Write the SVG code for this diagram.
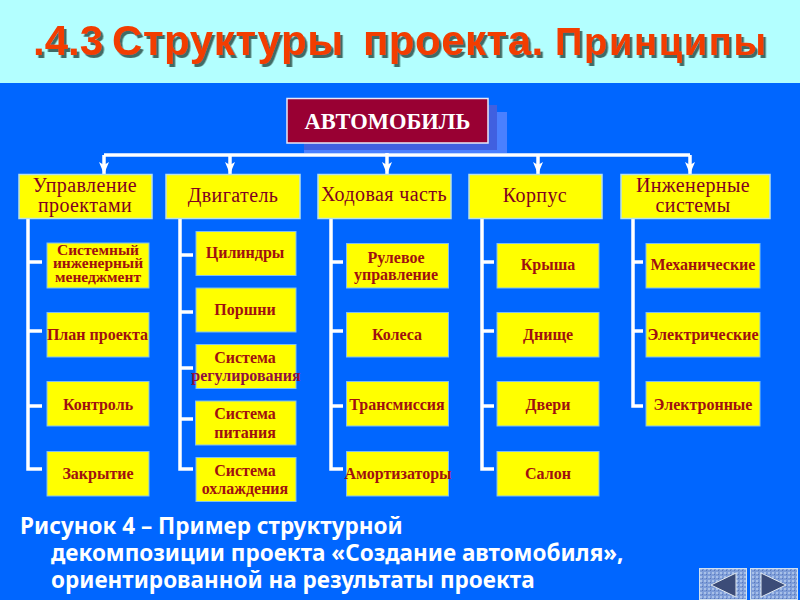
<svg xmlns="http://www.w3.org/2000/svg" width="800" height="600" viewBox="0 0 800 600">
<style>
.l1{fill:#ffff00;stroke:#b8e0e8;stroke-width:1.5}
.l2{fill:#ffff00;stroke:#80c0f0;stroke-width:1}
.t1{font-family:"Liberation Serif",serif;font-size:20px;fill:#800020;text-anchor:middle;letter-spacing:.4px}
.t2{font-family:"Liberation Serif",serif;font-size:16px;font-weight:bold;fill:#a01010;text-anchor:middle}
.t3{font-size:15.5px}
.c{fill:none;stroke:#fff;stroke-width:3.5}
.cap{font-family:"Noto Sans",sans-serif;font-size:22.500px;font-weight:bold;fill:#fff}
.btn{fill:url(#tex);stroke:#d0e0f0;stroke-width:1}
.tri{fill:#3c4c78;stroke:#e0e8f0;stroke-width:1}
.title{font-family:"Liberation Sans",sans-serif;font-weight:bold;fill:#f23c00}
</style>
<defs>
<marker id="ah" markerUnits="userSpaceOnUse" markerWidth="14" markerHeight="12" refX="13" refY="6" orient="auto" viewBox="0 0 14 12"><path d="M1 1L13 6L1 11L4 6Z" fill="#fff"/></marker>
<pattern id="tex" width="4" height="4" patternUnits="userSpaceOnUse"><rect width="4" height="4" fill="#7d9cd8"/><rect width="2" height="2" fill="#a8c0e8"/><rect x="2" y="2" width="1" height="1" fill="#5a78b8"/></pattern>
<filter id="sh" x="-5%" y="-20%" width="110%" height="150%"><feDropShadow dx="2.500" dy="3" stdDeviation=".7" flood-color="#1a3a30" flood-opacity=".75"/></filter>
</defs>
<rect width="800" height="600" fill="#0066ff"/>
<rect width="800" height="83" fill="#b3ffff"/>
<text class="title" y="55" font-size="42" filter="url(#sh)"><tspan x="33">.4.3</tspan><tspan x="112" letter-spacing=".6">Структуры</tspan><tspan x="363" letter-spacing=".5">проекта.</tspan><tspan x="555" font-size="38" letter-spacing="1.700">Принципы</tspan></text>

<g id="connectors">
<path class="c" d="M104 155H690"/>
<path class="c" d="M387 143V174" marker-end="url(#ah)"/>
<path class="c" d="M104 155V174" marker-end="url(#ah)"/>
<path class="c" d="M230 155V174" marker-end="url(#ah)"/>
<path class="c" d="M538 155V174" marker-end="url(#ah)"/>
<path class="c" d="M690 155V174" marker-end="url(#ah)"/>
<path class="c" d="M28 218V469H42M28 262H42M28 331H42M28 406H42"/>
<path class="c" d="M180 218V469H193M180 255H193M180 312H193M180 368H193M180 419H193"/>
<path class="c" d="M331 218V469H343M331 262H343M331 331H343M331 406H343"/>
<path class="c" d="M482 218V469H494M482 262H494M482 331H494M482 406H494"/>
<path class="c" d="M633 218V406H643M633 262H643M633 331H643"/>
</g>

<g id="root">
<rect x="304" y="112" width="203" height="41" fill="#4a80ff"/>
<rect x="304" y="105" width="193" height="45" fill="#4060e0"/>
<rect x="287" y="98.500" width="201" height="44.500" fill="#990033" stroke="#e8e8f8" stroke-width="1.500"/>
<text x="387.500" y="129" font-family="'Liberation Serif',serif" font-weight="bold" font-size="22.500" fill="#fff" text-anchor="middle">АВТОМОБИЛЬ</text>
</g>

<g id="n1"><rect class="l1" x="19" y="174.500" width="133" height="44"/><text class="t1" x="85" y="192">Управление</text><text class="t1" x="85" y="212">проектами</text></g>
<g id="n2"><rect class="l1" x="166" y="174.500" width="134" height="44"/><text class="t1" x="233" y="202">Двигатель</text></g>
<g id="n3"><rect class="l1" x="318" y="174.500" width="133" height="44"/><text class="t1" x="384" y="201">Ходовая часть</text></g>
<g id="n4"><rect class="l1" x="469" y="174.500" width="133" height="44"/><text class="t1" x="535" y="202">Корпус</text></g>
<g id="n5"><rect class="l1" x="621" y="174.500" width="149" height="44"/><text class="t1" x="693" y="192">Инженерные</text><text class="t1" x="693" y="212">системы</text></g>

<g id="n1-1"><rect class="l2" x="47" y="243" width="102" height="45"/><text class="t2 t3" x="98" y="255">Системный</text><text class="t2 t3" x="98" y="268">инженерный</text><text class="t2 t3" x="98" y="282">менеджмент</text></g>
<g id="n1-2"><rect class="l2" x="47" y="312.500" width="102" height="44.500"/><text class="t2" x="97.500" y="340">План проекта</text></g>
<g id="n1-3"><rect class="l2" x="47" y="381.500" width="102" height="44.500"/><text class="t2" x="98" y="410">Контроль</text></g>
<g id="n1-4"><rect class="l2" x="47" y="451.500" width="102" height="44.500"/><text class="t2" x="98" y="479">Закрытие</text></g>

<g id="n2-1"><rect class="l2" x="196" y="231.500" width="100" height="44"/><text class="t2" x="245" y="258">Цилиндры</text></g>
<g id="n2-2"><rect class="l2" x="196" y="288" width="100" height="44"/><text class="t2" x="245" y="315">Поршни</text></g>
<g id="n2-3"><rect class="l2" x="196" y="344.500" width="100" height="44"/><text class="t2" x="245" y="363">Система</text><text class="t2" x="246" y="381" style="fill:#901040">регулирования</text></g>
<g id="n2-4"><rect class="l2" x="195.500" y="401" width="100.500" height="44"/><text class="t2" x="245" y="419">Система</text><text class="t2" x="245" y="438">питания</text></g>
<g id="n2-5"><rect class="l2" x="196" y="457.500" width="100" height="44"/><text class="t2" x="245" y="476">Система</text><text class="t2" x="245" y="494">охлаждения</text></g>

<g id="n3-1"><rect class="l2" x="346.500" y="243.500" width="102" height="44.500"/><text class="t2" x="396" y="263">Рулевое</text><text class="t2" x="396" y="280">управление</text></g>
<g id="n3-2"><rect class="l2" x="346.500" y="312.500" width="102" height="44.500"/><text class="t2" x="397" y="340">Колеса</text></g>
<g id="n3-3"><rect class="l2" x="346.500" y="381.500" width="102" height="44.500"/><text class="t2" x="397" y="410">Трансмиссия</text></g>
<g id="n3-4"><rect class="l2" x="346.500" y="451.500" width="102" height="44.500"/><text class="t2" x="398" y="479">Амортизаторы</text></g>

<g id="n4-1"><rect class="l2" x="497" y="243.500" width="102" height="44.500"/><text class="t2" x="548" y="270">Крыша</text></g>
<g id="n4-2"><rect class="l2" x="497" y="312.500" width="102" height="44.500"/><text class="t2" x="548" y="340">Днище</text></g>
<g id="n4-3"><rect class="l2" x="497" y="381.500" width="102" height="44.500"/><text class="t2" x="548" y="410">Двери</text></g>
<g id="n4-4"><rect class="l2" x="497" y="451.500" width="102" height="44.500"/><text class="t2" x="548" y="479">Салон</text></g>

<g id="n5-1"><rect class="l2" x="646" y="243.500" width="114" height="44.500"/><text class="t2" x="703" y="270">Механические</text></g>
<g id="n5-2"><rect class="l2" x="646" y="312.500" width="114" height="44.500"/><text class="t2" x="703" y="340">Электрические</text></g>
<g id="n5-3"><rect class="l2" x="646" y="381.500" width="114" height="44.500"/><text class="t2" x="703" y="410">Электронные</text></g>

<text class="cap" x="20" y="534">Рисунок 4 – Пример структурной</text>
<text class="cap" x="51" y="561">декомпозиции проекта «Создание автомобиля»,</text>
<text class="cap" x="51" y="588">ориентированной на результаты проекта</text>

<g id="nav-prev"><rect class="btn" x="699.500" y="568.500" width="47" height="31"/><path class="tri" d="M711 585L736 573V597Z"/></g>
<g id="nav-next"><rect class="btn" x="750.500" y="568.500" width="47" height="31"/><path class="tri" d="M786 585L761 573V597Z"/></g>
</svg>
